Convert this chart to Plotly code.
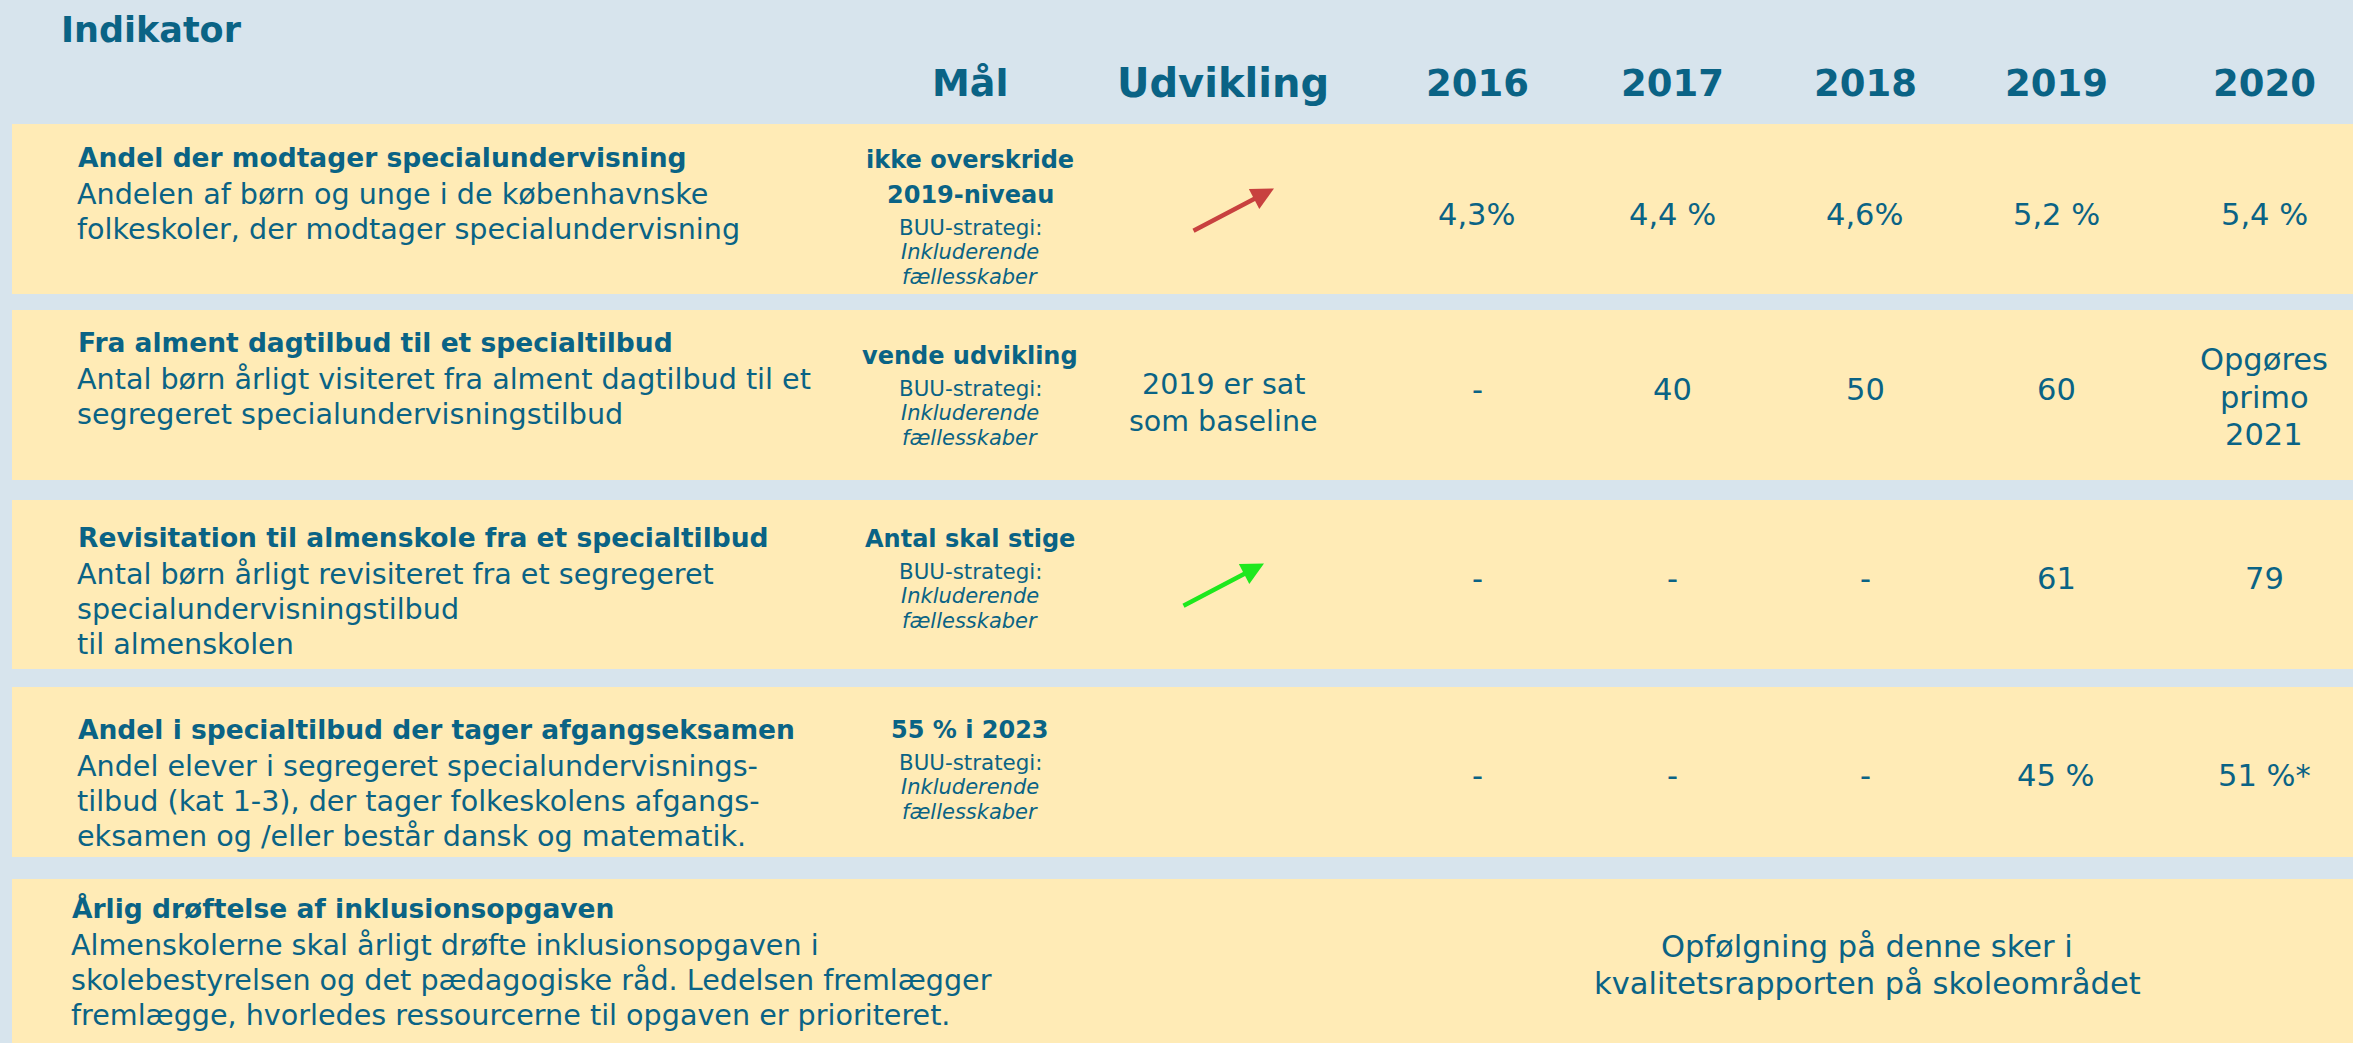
import plotly.graph_objects as go

# ---------------- data ----------------
header_indicator = "Indikator"
column_headers = ["Mål", "Udvikling"]
years = ["2016", "2017", "2018", "2019", "2020"]

indicator_titles = [
    "Andel der modtager specialundervisning",
    "Fra alment dagtilbud til et specialtilbud",
    "Revisitation til almenskole fra et specialtilbud",
    "Andel i specialtilbud der tager afgangseksamen",
    "Årlig drøftelse af inklusionsopgaven",
]
indicator_descriptions = [
    ["Andelen af børn og unge i de københavnske",
     "folkeskoler, der modtager specialundervisning"],
    ["Antal børn årligt visiteret fra alment dagtilbud til et",
     "segregeret specialundervisningstilbud"],
    ["Antal børn årligt revisiteret fra et segregeret",
     "specialundervisningstilbud",
     "til almenskolen"],
    ["Andel elever i segregeret specialundervisnings-",
     "tilbud (kat 1-3), der tager folkeskolens afgangs-",
     "eksamen og /eller består dansk og matematik."],
    ["Almenskolerne skal årligt drøfte inklusionsopgaven i",
     "skolebestyrelsen og det pædagogiske råd. Ledelsen fremlægger",
     "fremlægge, hvorledes ressourcerne til opgaven er prioriteret."],
]
goal_targets = [
    ["ikke overskride", "2019-niveau"],
    ["vende udvikling"],
    ["Antal skal stige"],
    ["55 % i 2023"],
    [],
]
goal_strategy_label = "BUU-strategi:"
goal_strategy_name = ["Inkluderende", "fællesskaber"]

development_trend = ["up", None, "up", None, None]
development_assessment = ["negative", None, "positive", None, None]
development_text = [None, ["2019 er sat", "som baseline"], None, None, None]

values_2016 = ["4,3%", "-", "-", "-"]
values_2017 = ["4,4 %", "40", "-", "-"]
values_2018 = ["4,6%", "50", "-", "-"]
values_2019 = ["5,2 %", "60", "61", "45 %"]
values_2020 = ["5,4 %", ["Opgøres", "primo", "2021"], "79", "51 %*"]
year_values = [values_2016, values_2017, values_2018, values_2019, values_2020]

followup_note = ["Opfølgning på denne sker i", "kvalitetsrapporten på skoleområdet"]

# ---------------- styling / layout ----------------
W, H = 2353, 1043
BG = "#d7e4ed"
BAND = "#ffebb6"
TXT = "#0a6385"
FONT = "DejaVu Sans"
TREND_COLORS = {"negative": "#c8413f", "positive": "#1ee81e"}

band_y = [(124, 294), (310, 480), (500, 669), (687, 857), (879, 1043)]
band_x0 = 12

title_y = [157, 342, 537, 729, 908]
title_x = [76, 76, 76, 76, 70]
body_gap = 37
body_step = 35

goal_x = 970
goal_y = [160, 356, 539, 730]
goal_step = 35
strat_gap = 32
strat_step = 25

dev_x = 1223
dev_y = [None, 384]
dev_step = 37

year_x = [1477, 1672, 1865, 2056, 2264]
value_y = [214, 389, 578, 775]
multi_step = 37.5

head_y = 83
note_x, note_y, note_step = 1867, 946, 37

arrow_center = [(1233, 210), None, (1223, 585)]
ARROW_DX, ARROW_DY = 82, 43

fig = go.Figure()
fig.add_trace(go.Scatter(x=[0, W], y=[0, H], mode="markers",
                         marker=dict(opacity=0), hoverinfo="skip", showlegend=False))

shapes = []
for (y0, y1) in band_y:
    shapes.append(dict(type="rect", xref="x", yref="y", x0=band_x0, x1=W, y0=y0, y1=y1,
                       fillcolor=BAND, line=dict(width=0), layer="below"))

ann = []


def txt(x, y, s, size, bold=False, italic=False, anchor="left"):
    if bold:
        s = "<b>" + s + "</b>"
    if italic:
        s = "<i>" + s + "</i>"
    ann.append(dict(x=x, y=y, xref="x", yref="y", text=s, showarrow=False,
                    xanchor=anchor, yanchor="middle",
                    font=dict(family=FONT, size=size, color=TXT)))


# headers
txt(59, 30, header_indicator, 35, bold=True)
txt(goal_x, head_y, column_headers[0], 38, bold=True, anchor="center")
txt(dev_x, head_y, column_headers[1], 40, bold=True, anchor="center")
for i, yr in enumerate(years):
    txt(year_x[i], head_y, yr, 37, bold=True, anchor="center")

# indicator cells
for r, title in enumerate(indicator_titles):
    txt(title_x[r], title_y[r], title, 26.5, bold=True)
    for k, line in enumerate(indicator_descriptions[r]):
        txt(title_x[r] - 1, title_y[r] + body_gap + k * body_step, line, 28.6)

# goal cells
for r, tg in enumerate(goal_targets):
    if not tg:
        continue
    y = goal_y[r]
    for k, line in enumerate(tg):
        txt(goal_x, y + k * goal_step, line, 24, bold=True, anchor="center")
    ys = y + (len(tg) - 1) * goal_step + strat_gap
    txt(goal_x, ys, goal_strategy_label, 21.4, anchor="center")
    for k, line in enumerate(goal_strategy_name):
        txt(goal_x, ys + (k + 1) * strat_step, line, 21, italic=True, anchor="center")

# development cells
for r, lines in enumerate(development_text):
    if lines:
        for k, line in enumerate(lines):
            txt(dev_x, dev_y[r] + k * dev_step, line, 28.5, anchor="center")

for r, trend in enumerate(development_trend):
    if trend == "up":
        cx, cy = arrow_center[r]
        ann.append(dict(x=cx + ARROW_DX / 2, y=cy - ARROW_DY / 2,
                        ax=cx - ARROW_DX / 2, ay=cy + ARROW_DY / 2,
                        xref="x", yref="y", axref="x", ayref="y", text="",
                        showarrow=True, arrowhead=2, arrowsize=1, arrowwidth=4.5,
                        arrowcolor=TREND_COLORS[development_assessment[r]]))

# yearly values
for c, vals in enumerate(year_values):
    for r, v in enumerate(vals):
        if isinstance(v, list):
            n = len(v)
            for k, line in enumerate(v):
                txt(year_x[c], value_y[r] + 8 + (k - (n - 1) / 2) * multi_step, line, 30.5, anchor="center")
        else:
            txt(year_x[c], value_y[r], v, 30.5, anchor="center")

# follow-up note (row 5)
for k, line in enumerate(followup_note):
    txt(note_x, note_y + k * note_step, line, 30.5, anchor="center")

fig.update_layout(
    width=W, height=H, margin=dict(l=0, r=0, t=0, b=0),
    paper_bgcolor=BG, plot_bgcolor=BG,
    xaxis=dict(visible=False, range=[0, W], fixedrange=True),
    yaxis=dict(visible=False, range=[H, 0], fixedrange=True),
    shapes=shapes, annotations=ann, showlegend=False,
)

fig.write_html("out.html", config={"displayModeBar": False},
               post_script="document.body.style.margin='0';document.body.style.overflow='hidden';")
